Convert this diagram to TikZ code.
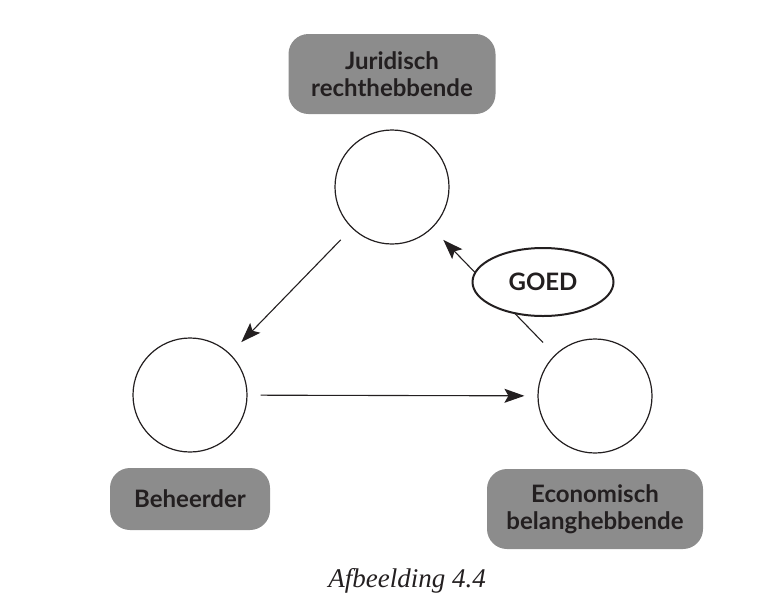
\documentclass[tikz,border=0pt]{standalone}
\usepackage{fontspec}
\newfontfamily\latofont{Lato}
\newfontfamily\captionfont{Liberation Serif}
\usepackage{tikz}
\usetikzlibrary{arrows.meta}
\usetikzlibrary{positioning}
\usepgflibrary{shapes.geometric}
\definecolor{boxgray}{RGB}{140,140,140}
\definecolor{inkdark}{RGB}{35,31,32}

\begin{document}
\begin{tikzpicture}[
      x=0.5pt, y=-0.5pt,
      rol/.style ={circle, draw=inkdark, line width=0.6pt, minimum size=57pt, inner sep=0pt},
      tag/.style ={rectangle, rounded corners=10pt, fill=boxgray, text=inkdark, align=center,
                   font=\latofont\bfseries\fontsize{12}{13.5}\selectfont, inner sep=0pt},
      goed/.style ={ellipse, draw=inkdark, line width=1pt, fill=white, text=inkdark,
                   minimum width=70.5pt, minimum height=34pt, inner sep=0pt,
                   font=\latofont\bfseries\fontsize{12}{14}\selectfont},
      pijl/.style ={-{Stealth[length=10pt,width=7pt,inset=2pt]}, draw=inkdark, line width=0.55pt},
      node distance=7.5pt
    ]
    \useasboundingbox (0,0) rectangle (780,600);
    \node [rol] (jur) at (392,187) {} ;
    \node [rol] (beh) at (190,395) {} ;
    \node [rol] (eco) at (595,396) {} ;
    \node [tag, minimum width=103.5pt, minimum height=40pt] (jurtag) [above=of jur] {Juridisch\\rechthebbende} ;
    \node [tag, minimum width=80pt, minimum height=31pt] (behtag) [below=of beh] {Beheerder} ;
    \node [tag, minimum width=108pt, minimum height=40pt] (ecotag) [below=of eco] {Economisch\\belanghebbende} ;

    \draw [pijl, shorten <=8pt, shorten >=8pt] (jur) -- (beh) ;
    \draw [pijl, shorten <=6.5pt, shorten >=6.5pt] (beh) -- (eco) ;
    \draw [pijl, shorten <=8.5pt, shorten >=8pt] (eco) -- (jur) ;
    \node [goed] (goed) at (543,282) {GOED} ;

    \node [font=\captionfont\itshape\fontsize{13.5}{15}\selectfont, text=inkdark] (caption) at (407,581) {Afbeelding 4.4} ;
  \end{tikzpicture}
\end{document}
